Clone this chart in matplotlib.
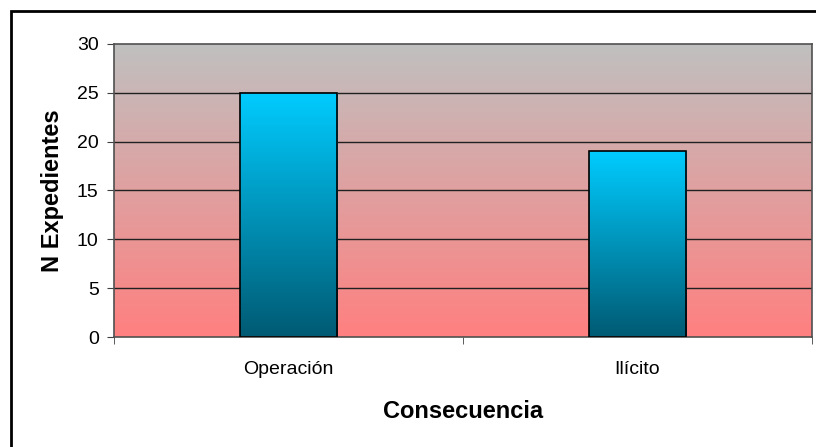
import numpy as np
import matplotlib.pyplot as plt
from matplotlib.colors import LinearSegmentedColormap
from matplotlib.patches import Rectangle

plt.rcParams['font.family'] = ['Liberation Sans', 'DejaVu Sans']

categorias = ['Operación', 'Ilícito']
expedientes = [25, 19]
yticks = [0, 5, 10, 15, 20, 25, 30]

fig = plt.figure(figsize=(8.16, 4.47), dpi=100)
ax = fig.add_axes([114 / 816, 110 / 447, 698 / 816, 293 / 447])

# outer chart border (only top and left fall inside the image)
fig.patches.append(Rectangle((10.5 / 816, -0.1), 1.2, (447 - 11) / 447 + 0.1,
                             transform=fig.transFigure, fill=False,
                             edgecolor='black', linewidth=2, zorder=0))

x = np.arange(len(categorias))

# plot area gradient: grey at top fading to salmon at bottom
fondo = LinearSegmentedColormap.from_list('fondo', ['#FF8080', '#C0C0C0'])
grad = np.linspace(0, 1, 256).reshape(-1, 1)
ax.imshow(grad, cmap=fondo, aspect='auto', origin='lower',
          extent=[-0.5, len(categorias) - 0.5, 0, 30], zorder=0)

for yv in yticks[1:-1]:
    ax.axhline(yv, color='#202020', linewidth=1, zorder=1)

# bars with vertical cyan-to-teal gradient
barra = LinearSegmentedColormap.from_list('barra', ['#005A73', '#00CCFF'])
bars = ax.bar(x, expedientes, width=0.28, facecolor='none',
              edgecolor='black', linewidth=1.2, zorder=3)
for b, v in zip(bars, expedientes):
    x0 = b.get_x()
    im = ax.imshow(grad, cmap=barra, aspect='auto', origin='lower',
                   extent=[x0, x0 + b.get_width(), 0, v], zorder=2)
    im.set_clip_path(b)

ax.set_xlim(-0.5, len(categorias) - 0.5)
ax.set_ylim(0, 30)

ax.set_yticks(yticks)
ax.set_yticklabels([str(t) for t in yticks], fontsize=14)
ax.set_xticks(x)
ax.set_xticklabels(categorias, fontsize=14)
ax.tick_params(axis='x', length=0, pad=17)
ax.set_xticks(np.arange(-0.5, len(categorias)), minor=True)
ax.tick_params(axis='x', which='minor', length=5, direction='out', color='#404040')
ax.tick_params(axis='y', length=5, direction='out', color='#404040', pad=6)

for s in ax.spines.values():
    s.set_color('#505050')
    s.set_linewidth(1.2)

ax.set_ylabel('N Expedientes', fontsize=17, fontweight='bold', labelpad=9)
ax.set_xlabel('Consecuencia', fontsize=17, fontweight='bold', labelpad=16)

fig.savefig('out.png', dpi=100)
